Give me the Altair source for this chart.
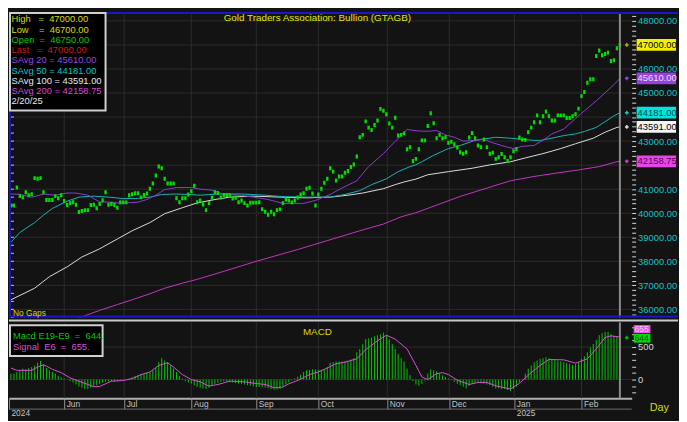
import altair as alt
import pandas as pd

# ---------------- data ----------------
close = [40320, 40320, 41070, 40710, 40660, 40870, 40750, 40790, 41460, 41430,
         41460, 40870, 40550, 40550, 40550, 40710, 40620, 40750, 40510, 40340,
         40420, 40460, 40350, 40050, 40090, 40130, 40130, 40340, 40350, 40210,
         40380, 40540, 40870, 40350, 40380, 40340, 40230, 40450, 40450, 40450,
         40750, 40790, 40830, 40830, 40660, 40760, 40820, 41020, 41240, 41570,
         41940, 41870, 41430, 41240, 41240, 41240, 40620, 40460, 40620, 40620,
         40780, 40920, 41140, 40460, 40530, 40360, 40130, 40420, 40640, 40870,
         40840, 40650, 40760, 40760, 40750, 40610, 40640, 40460, 40530, 40420,
         40320, 40440, 40440, 40440, 40460, 40170, 40060, 39940, 40060, 39960,
         40130, 40160, 40420, 40570, 40530, 40450, 40530, 40650, 40780, 40830,
         41020, 41060, 40820, 40320, 40780, 41020, 41270, 41430, 41870, 41730,
         41360, 41530, 41530, 41680, 41760, 41920, 42030, 42360, 43160, 43260,
         43820, 43560, 43460, 43670, 43860, 44340, 44260, 44120, 43730, 43560,
         43970, 43230, 43260, 43320, 42660, 42750, 42170, 42260, 42660, 43030,
         43030, 43630, 44160, 43740, 43120, 43260, 43120, 43160, 42930, 42970,
         42870, 42730, 42540, 42470, 42540, 43150, 43340, 43120, 42820, 42750,
         43070, 42750, 42470, 42520, 42260, 42330, 42460, 42330, 42170, 42330,
         42580, 42670, 43150, 43070, 43050, 43370, 43560, 43780, 44070, 43780,
         44030, 44230, 44030, 43860, 43860, 44070, 44070, 44070, 43960, 43960,
         44030, 44120, 44350, 44870, 45040, 45430, 45570, 45570, 46540, 46770,
         46570, 46620, 46680, 46330, 46360, 46860, 47000]

ma20_idx = [0, 3, 7, 8, 11, 15, 19, 22, 26, 30, 34, 37, 39, 43, 46, 49, 52, 56, 61, 64,
            68, 72, 78, 82, 87, 92, 99, 103, 108, 112, 117, 121, 126, 130, 134, 138, 141, 144, 147, 150,
            153, 157, 160, 163, 167, 170, 173, 177, 180, 183, 187, 191, 194, 198, 201, 204, 206]
ma20_val = [40800, 40790, 40665, 40693, 40800, 40750, 40840, 40840, 40750, 40470,
            40460, 40410, 40430, 40460, 40570, 40750, 40980, 41070, 41070, 41000,
            40960, 40780, 40740, 40670, 40570, 40410, 40410, 40530, 40780, 41050,
            41350, 41940, 42480, 42990, 43480, 43420, 43410, 43440, 43260, 43160,
            43000, 43030, 43070, 42930, 42780, 42690, 42780, 42820, 43030, 43300,
            43500, 43940, 44260, 44670, 45010, 45350, 45610]

ma50_idx = [0, 3, 8, 11, 14, 19, 23, 28, 33, 38, 42, 47, 51, 56, 60, 64, 70, 78, 86, 92,
            100, 108, 113, 118, 122, 127, 131, 135, 137, 139, 143, 148, 152, 157, 160, 164, 169, 173, 177, 179,
            183, 187, 191, 194, 198, 201, 204, 206]
ma50_val = [38790, 39200, 39610, 39920, 40200, 40500, 40670, 40710, 40670, 40610,
            40610, 40670, 40780, 40800, 40780, 40750, 40800, 40800, 40750, 40690,
            40670, 40670, 40780, 40940, 41190, 41430, 41730, 41940, 42010, 42140,
            42410, 42690, 42820, 43030, 43090, 43160, 43120, 43070, 43030, 43030,
            43120, 43230, 43300, 43400, 43570, 43810, 44050, 44181]

ma100_idx = [0, 8, 13, 19, 24, 30, 36, 41, 47, 52, 58, 63, 69, 74, 82, 91, 100, 108, 114, 119,
             126, 130, 133, 137, 141, 148, 156, 162, 169, 174, 180, 186, 191, 197, 201, 205, 206]
ma100_val = [36400, 36880, 37360, 37770, 38180, 38520, 38930, 39270, 39610, 39980,
             40230, 40430, 40570, 40670, 40710, 40670, 40640, 40670, 40750, 40840,
             41020, 41190, 41300, 41420, 41600, 41730, 41870, 42010, 42140, 42300,
             42480, 42690, 42890, 43120, 43370, 43570, 43591]

ma200_idx = [22, 30, 36, 41, 47, 52, 58, 63, 69, 83, 97, 107, 118, 126, 132, 137, 152, 169,
             177, 184, 192, 199, 205, 206]
ma200_val = [35600, 35960, 36200, 36400, 36650, 36880, 37090, 37250, 37470, 38000, 38490,
             38860, 39270, 39550, 39850, 40020, 40700, 41350, 41530, 41660, 41800, 41940,
             42140, 42159]

macd = [90, 90, 116, 141, 167, 157, 177, 192, 217, 258,
        288, 227, 177, 141, 116, 91, 56, 35, 15, -5,
        -25, -45, -76, -106, -126, -146, -146, -126, -106, -86,
        -66, -45, -35, -25, -25, -35, -25, -15, -10, -5,
        15, 35, 56, 66, 86, 91, 106, 116, 141, 177,
        268, 328, 293, 268, 217, 167, 116, 56, 15, -25,
        -45, -66, -86, -111, -126, -136, -146, -126, -86, -66,
        -50, -35, -25, -35, -40, -45, -56, -66, -66, -76,
        -86, -96, -106, -116, -116, -116, -126, -136, -146, -157,
        -157, -146, -111, -76, -45, -10, 15, 40, 76, 116,
        141, 150, 155, 155, 150, 150, 157, 192, 258, 268,
        278, 278, 278, 278, 288, 308, 328, 419, 470, 545,
        621, 631, 646, 662, 682, 697, 722, 682, 621, 545,
        470, 394, 328, 278, 167, 66, -25, -76, -96, -66,
        -15, 91, 157, 141, 126, 91, 66, 40, 15, -10,
        -35, -66, -86, -111, -136, -96, -66, -50, -35, -45,
        -60, -76, -86, -111, -136, -136, -146, -146, -162, -177,
        -146, -111, -45, 5, 91, 167, 217, 268, 293, 318,
        328, 343, 328, 318, 308, 293, 278, 268, 258, 242,
        227, 237, 268, 318, 359, 419, 495, 545, 611, 682,
        712, 732, 732, 697, 672, 662, 644]

sig_idx = [0, 2, 7, 9, 11, 12, 14, 17, 20, 23, 26, 28, 30, 32, 34, 38, 41, 44, 47, 50,
           53, 55, 58, 61, 64, 67, 70, 74, 79, 82, 86, 89, 92, 94, 98, 101, 104, 107, 110, 113,
           117, 120, 124, 127, 130, 134, 137, 139, 141, 144, 146, 148, 151, 155, 158, 161, 164, 169, 172, 175,
           179, 182, 187, 191, 195, 198, 201, 203, 206]
sig_val = [177, 141, 141, 192, 227, 207, 157, 106, 25, -25, -76, -111, -106, -66, -25, -15, 15, 76, 116, 217,
           258, 192, 76, 0, -35, -101, -76, -25, -35, -56, -76, -126, -116, -66, 5, 76, 116, 177, 242, 268,
           318, 460, 596, 682, 621, 470, 217, 40, 0, 91, 106, 76, -10, -76, -45, -45, -96, -146, -60, 66,
           217, 308, 303, 252, 318, 470, 646, 672, 655]

month_names = ["Jun", "Jul", "Aug", "Sep", "Oct", "Nov", "Dec", "Jan", "Feb"]
month_start = [18, 38.3, 61, 83, 104, 127.3, 148.3, 170.3, 193]
year_labels = ["2024", "2025"]
price_grid = [36000, 37000, 38000, 39000, 40000, 41000, 42000, 43000, 44000, 45000,
              46000, 47000, 48000]
macd_grid = [0, 500]

NB = "\u00a0"
title_text = "Gold Traders Association: Bullion (GTAGB)"
legend_lines = ["High" + NB * 3 + "=" + NB * 2 + "47000.00",
                "Low" + NB * 4 + "=" + NB * 2 + "46700.00",
                "Open" + NB * 2 + "=" + NB * 2 + "46750.00",
                "Last" + NB * 3 + "=" + NB * 2 + "47000.00",
                "SAvg" + NB + "20" + NB + "=" + NB + "45610.00",
                "SAvg" + NB + "50" + NB + "=" + NB + "44181.00",
                "SAvg" + NB + "100" + NB + "=" + NB + "43591.00",
                "SAvg" + NB + "200" + NB + "=" + NB + "42158.75",
                NB + "2/20/25"]
legend_colors = ["#d8d800", "#d8d800", "#00c800", "#c81c1c", "#8c4ce4", "#00c4c4",
                 "#e8e8e8", "#d844d8", "#e8e8e8"]

box_vals = [47000, 45610, 44181, 43591, 42158.75]
box_text = ["47000.00", "45610.00", "44181.00", "43591.00", "42158.75"]
box_bg = ["#f0f000", "#9444dc", "#00e4e4", "#f4f4f4", "#e448e4"]
box_fg = ["#000000", "#eadcff", "#004848", "#000000", "#5c005c"]
box_cross = ["#b0b000", "#9444dc", "#00d0d0", "#e0e0e0", "#d040d0"]

macd_legend = ["Macd" + NB + "E19-E9" + NB * 2 + "=" + NB * 2 + "644.",
               "Signal" + NB * 2 + "E6" + NB * 2 + "=" + NB * 2 + "655."]
macd_boxes = [655, 644]
macd_box_text = ["655", "644"]

# ---------------- style / layout ----------------
FONT = "Liberation Sans"
BG = "#131313"
GRID = "#2c2c2c"
BLUE = "#1818c8"
GREEN = "#00e000"
BAR_GREEN = "#00c800"
SIG = "#d452d4"
W, H1, H2 = 632, 310, 77
XDOM = [-0.67, 210]
YDOM = [35664, 48369]
MDOM = [-288, 879]
last_i = len(close) - 1

xsc = alt.Scale(domain=XDOM, nice=False, zero=False)
ysc = alt.Scale(domain=YDOM, nice=False, zero=False)
msc = alt.Scale(domain=MDOM, nice=False, zero=False)
one = pd.DataFrame({"a": [0]})

# price axis labels at every 1000, except where a value box covers them
hide = " && ".join(f"abs(datum.value - {b}) > 300" for b in box_vals)
yaxis = alt.Axis(orient="right", values=list(range(35800, 48400, 200)),
                 labelExpr=f"datum.value % 1000 == 0 && {hide} ? format(datum.value, '.2f') : ''",
                 tickSize=4, tickColor="#d8d8d8", labelColor="#10c4c4", labelFont=FONT,
                 labelFontSize=9.5, labelPadding=2, domain=False, grid=False, title=None,
                 labelOverlap=False, labelFlush=False)
maxis = alt.Axis(orient="right", values=list(range(-200, 900, 100)),
                 labelExpr="datum.value == 0 || datum.value == 500 ? format(datum.value, 'd') : ''",
                 tickSize=4, tickColor="#d8d8d8", labelColor="#d8d8d8", labelFont=FONT,
                 labelFontSize=9.5, labelPadding=2, domain=False, grid=False, title=None,
                 labelOverlap=False, labelFlush=False)

conds = []
for v, name in zip(month_start, month_names):
    second = year_labels[1] if name == "Jan" else NB
    conds.append(f"abs(datum.value - {v}) < 0.01 ? ['{name}', '{second}']")
conds.append(f"abs(datum.value - ({XDOM[0]})) < 0.01 ? ['{NB}', '{year_labels[0]}']")
label_expr = " : ".join(conds) + " : ''"

xaxis = alt.Axis(orient="bottom", values=[XDOM[0]] + month_start, labelExpr=label_expr,
                 tickSize=11, tickColor="#909090", domainColor="#b0b0b0", domainWidth=2,
                 labelColor="#c4c4c4", labelFont=FONT, labelFontSize=8.5, labelAlign="left",
                 labelBaseline="top", labelPadding=-10, labelOffset=2, labelLineHeight=10,
                 grid=False, title=None, labelFlush=False, labelOverlap=False)

XP = alt.X("idx:Q", scale=xsc, axis=None)          # main panel x
XM = alt.X("idx:Q", scale=xsc, axis=xaxis)         # macd panel x (with month axis)
YP = alt.Y("v:Q", scale=ysc, axis=yaxis)           # price y
YM = alt.Y("v:Q", scale=msc, axis=maxis)           # macd y


def txt(s, x, y, color, size=9.5, align="left", baseline="middle"):
    return alt.Chart(pd.DataFrame({"t": [s]})).mark_text(
        font=FONT, fontSize=size, color=color, align=align, baseline=baseline
    ).encode(x=alt.value(x), y=alt.value(y), text="t:N")


def hline(x1, x2, y, color, w=2):
    return alt.Chart(one).mark_rule(color=color, strokeWidth=w).encode(
        x=alt.value(x1), x2=alt.value(x2), y=alt.value(y))


def line_layer(idx, vals, color, xenc, yenc):
    df = pd.DataFrame({"idx": idx, "v": vals})
    return alt.Chart(df).mark_line(color=color, strokeWidth=1, clip=True).encode(x=xenc, y=yenc)


# ---------------- main price panel ----------------
hgrid = alt.Chart(pd.DataFrame({"v": price_grid})).mark_rule(color=GRID, strokeWidth=1).encode(y=YP)
vgrid = alt.Chart(pd.DataFrame({"idx": month_start})).mark_rule(color=GRID, strokeWidth=1).encode(x=XP)
left_ticks = alt.Chart(pd.DataFrame({"v": [k * 1000 / 3 for k in range(107, 146)]})).mark_rule(
    color="#c8c8c8", strokeWidth=1).encode(x=alt.value(2), x2=alt.value(5), y=YP)

price_df = pd.DataFrame({"idx": list(range(len(close))), "v": close})
points = alt.Chart(price_df).mark_point(
    shape="M-0.6,-1L0.6,-1L0.6,1L-0.6,1Z", filled=True, size=16, color=GREEN, opacity=1, clip=True
).encode(x=XP, y=YP)

cursor_main = alt.Chart(pd.DataFrame({"idx": [last_i]})).mark_rule(color="#8c8c8c", strokeWidth=2).encode(x=XP)

box_df = pd.DataFrame({"v": box_vals, "t": box_text, "bg": box_bg, "fg": box_fg, "cc": box_cross})
boxes = alt.Chart(box_df).mark_rect(yOffset=-6, y2Offset=6).encode(
    x=alt.value(W + 5), x2=alt.value(W + 45), y=YP, y2="v:Q", color=alt.Color("bg:N", scale=None))
box_txt = alt.Chart(box_df).mark_text(font=FONT, fontSize=9.5, align="left", baseline="middle").encode(
    x=alt.value(W + 6), y=YP, text="t:N", color=alt.Color("fg:N", scale=None))
crosses = alt.Chart(box_df).mark_point(shape="cross", filled=True, size=14, opacity=1).encode(
    x=alt.value(W - 5), y=YP, color=alt.Color("cc:N", scale=None))

legend_box = alt.Chart(one).mark_rect(fill="#000000", stroke="#d0d0d0", strokeWidth=2).encode(
    x=alt.value(1), x2=alt.value(98), y=alt.value(1), y2=alt.value(100))
legend_txt = [txt(s, 2.5, 7.5 + 10.4 * k, c) for k, (s, c) in enumerate(zip(legend_lines, legend_colors))]

main_layers = [hgrid, vgrid, left_ticks,
               line_layer(ma200_idx, ma200_val, "#c436c4", XP, YP),
               line_layer(ma100_idx, ma100_val, "#dcdcdc", XP, YP),
               line_layer(ma50_idx, ma50_val, "#18b4bc", XP, YP),
               line_layer(ma20_idx, ma20_val, "#8a3ed2", XP, YP),
               points, cursor_main, boxes, box_txt, crosses,
               hline(98, W + 47, 1, BLUE), hline(0, W + 47, H1 - 1, BLUE),
               alt.Chart(one).mark_rule(color=BLUE, strokeWidth=2).encode(
                   x=alt.value(1), y=alt.value(0), y2=alt.value(H1)),
               legend_box] + legend_txt + [
               txt(title_text, 313, 6, "#e4e400", size=10, align="center"),
               txt("No Gaps", 4, H1 - 4, "#d8d800", size=8.5)]
main = alt.layer(*main_layers).properties(width=W, height=H1)

# ---------------- MACD panel ----------------
mgrid = alt.Chart(pd.DataFrame({"v": macd_grid})).mark_rule(color=GRID, strokeWidth=1).encode(y=YM)
mvgrid = alt.Chart(pd.DataFrame({"idx": month_start})).mark_rule(color=GRID, strokeWidth=1).encode(x=XM)

macd_df = pd.DataFrame({"idx": list(range(len(macd))), "v": macd})
bars = alt.Chart(macd_df).mark_rule(strokeWidth=1).encode(
    x=XM, y=YM, y2=alt.datum(0),
    color=alt.condition(f"datum.idx == {last_i}", alt.value(SIG), alt.value(BAR_GREEN)))
signal = line_layer(sig_idx, sig_val, SIG, XM, YM)
cursor_macd = alt.Chart(pd.DataFrame({"idx": [last_i]})).mark_rule(color="#8c8c8c", strokeWidth=2).encode(x=XM)

mb_df = pd.DataFrame({"v": macd_boxes, "t": macd_box_text, "bg": ["#e458e4", "#00e000"],
                      "fg": ["#ffc8ff", "#004800"]})
mbox1 = alt.Chart(mb_df.iloc[[0]]).mark_rect(yOffset=-12, y2Offset=-4).encode(
    x=alt.value(W + 2), x2=alt.value(W + 19), y=YM, y2="v:Q", color=alt.Color("bg:N", scale=None))
mbox2 = alt.Chart(mb_df.iloc[[1]]).mark_rect(yOffset=-4, y2Offset=5).encode(
    x=alt.value(W + 2), x2=alt.value(W + 19), y=YM, y2="v:Q", color=alt.Color("bg:N", scale=None))
mtxt1 = alt.Chart(mb_df.iloc[[0]]).mark_text(font=FONT, fontSize=8.5, align="left", baseline="middle",
                                             dy=-8).encode(
    x=alt.value(W + 3), y=YM, text="t:N", color=alt.Color("fg:N", scale=None))
mtxt2 = alt.Chart(mb_df.iloc[[1]]).mark_text(font=FONT, fontSize=8.5, align="left", baseline="middle",
                                             dy=0.5).encode(
    x=alt.value(W + 3), y=YM, text="t:N", color=alt.Color("fg:N", scale=None))
mcross = alt.Chart(mb_df.iloc[[1]]).mark_point(shape="cross", filled=True, size=14, opacity=1,
                                               color="#00c000").encode(x=alt.value(W - 5), y=YM)

mleg_box = alt.Chart(one).mark_rect(fill="#000000", stroke="#d0d0d0", strokeWidth=2).encode(
    x=alt.value(1), x2=alt.value(95), y=alt.value(3), y2=alt.value(34))

macd_layers = [mgrid, mvgrid, bars, signal, cursor_macd, mbox1, mbox2, mtxt1, mtxt2, mcross,
               hline(0, W + 47, -2, "#c8c8c8"), hline(0, W, H2 + 11, "#707070", 1),
               mleg_box,
               txt(macd_legend[0], 4, 14, "#00c800"),
               txt(macd_legend[1], 4, 25, "#d452d4"),
               txt("MACD", 313, 10, "#d8d800", size=10, align="center"),
               txt("Day", W + 28, H2 + 10, "#d8d800", size=11, align="center")]
macd_chart = alt.layer(*macd_layers).properties(width=W, height=H2)

chart = alt.vconcat(main, macd_chart, spacing=5, bounds="flush").properties(
    padding=0, background=BG
).configure_view(stroke=None)

chart.save("out.html", embed_options={"renderer": "svg", "actions": False})
